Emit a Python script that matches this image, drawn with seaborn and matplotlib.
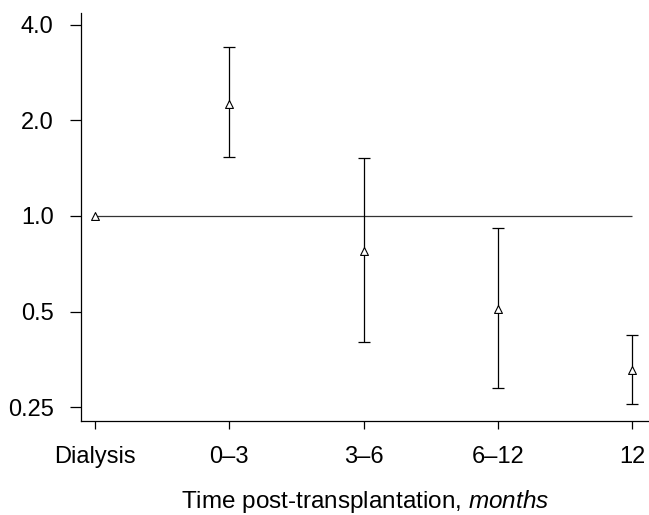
import numpy as np
import pandas as pd
import matplotlib
matplotlib.use("Agg")
import matplotlib.pyplot as plt
import seaborn as sns

# ---- data ----
categories = ["Dialysis", "0\u20133", "3\u20136", "6\u201312", "12"]
estimate = [1.00, 2.26, 0.775, 0.51, 0.326]
ci_lower = [1.00, 1.53, 0.402, 0.288, 0.255]
ci_upper = [1.00, 3.41, 1.52, 0.914, 0.422]
ref_value = 1.0
y_ticks = [0.25, 0.5, 1.0, 2.0, 4.0]
y_tick_labels = ["0.25", "0.5", "1.0", "2.0", "4.0"]

df = pd.DataFrame({"cat": categories, "pos": np.arange(len(categories)),
                   "est": estimate, "lo": ci_lower, "hi": ci_upper})

sns.set_style("ticks")
plt.rcParams["font.family"] = ["Liberation Sans", "DejaVu Sans"]
plt.rcParams["mathtext.fontset"] = "custom"
plt.rcParams["mathtext.it"] = "Liberation Sans:italic"
plt.rcParams["mathtext.rm"] = "Liberation Sans"
plt.rcParams["text.color"] = "black"
plt.rcParams["axes.labelcolor"] = "black"

fig = plt.figure(figsize=(6.49, 5.15), dpi=100)
ax = fig.add_axes([81/649, 1-421/515, (649-81)/649, (421-13)/515])

ax.set_yscale("log", base=2)

# reference line
ax.hlines(ref_value, df["pos"].min(), df["pos"].max(), color="#333333", lw=0.9, zorder=1)

# error bars (the reference category has no interval)
has_ci = df["hi"] > df["lo"]
sub = df[has_ci]
ax.errorbar(sub["pos"], sub["est"],
            yerr=[sub["est"] - sub["lo"], sub["hi"] - sub["est"]],
            fmt="none", ecolor="black", elinewidth=0.9, capsize=4.5, capthick=0.9, zorder=2)

sns.scatterplot(data=df, x="pos", y="est", marker="^", s=32,
                facecolor="white", edgecolor="black", linewidth=0.8, ax=ax, zorder=3,
                legend=False)

ax.set_xlim(-0.104, 4.126)
ax.set_ylim(0.226, 4.36)
ax.set_xticks(df["pos"])
ax.set_xticklabels(categories)
ax.set_yticks(y_ticks)
ax.set_yticklabels(y_tick_labels)
ax.yaxis.set_minor_locator(matplotlib.ticker.NullLocator())

ax.tick_params(axis="both", direction="out", width=0.9, labelsize=17, colors="black")
ax.tick_params(axis="y", length=7.7, pad=12)
ax.tick_params(axis="x", length=6, pad=12)
for s in ["top", "right"]:
    ax.spines[s].set_visible(False)
for s in ["left", "bottom"]:
    ax.spines[s].set_linewidth(0.9)
    ax.spines[s].set_color("black")

ax.set_xlabel(r"Time post-transplantation, $\it{months}$", fontsize=17.5, labelpad=14.5,
              color="black")
ax.set_ylabel("")

fig.savefig("out.png", dpi=100)
